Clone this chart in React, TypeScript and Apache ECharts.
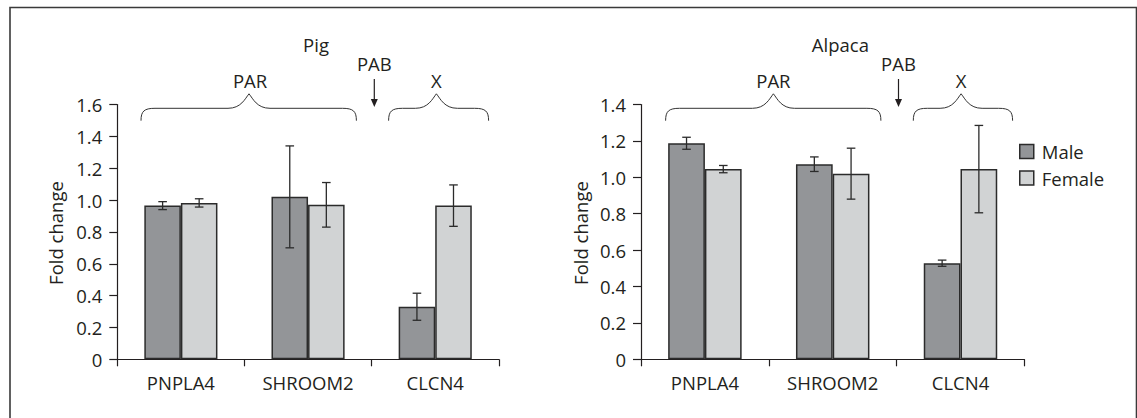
import React, { useEffect, useRef } from "react";
import * as echarts from "echarts";

const categories = ["PNPLA4", "SHROOM2", "CLCN4"];
const seriesNames = ["Male", "Female"];

const pigMale = [0.965, 1.02, 0.33];
const pigMaleErr = [0.025, 0.32, 0.085];
const pigFemale = [0.982, 0.97, 0.965];
const pigFemaleErr = [0.026, 0.14, 0.13];

const alpacaMale = [1.187, 1.072, 0.528];
const alpacaMaleErr = [0.033, 0.04, 0.017];
const alpacaFemale = [1.045, 1.02, 1.045];
const alpacaFemaleErr = [0.02, 0.14, 0.24];

const pigTicks = ["0", "0.2", "0.4", "0.6", "0.8", "1.0", "1.2", "1.4", "1.6"];
const alpacaTicks = ["0", "0.2", "0.4", "0.6", "0.8", "1.0", "1.2", "1.4"];

const FONT = "Open Sans";
const FS = 18.5;
const INK = "#231f20";
const MALE_COLOR = "#939598";
const FEMALE_COLOR = "#d1d3d4";
const GAP = 0.425;

const Brace = echarts.graphic.extendShape({
  shape: { x1: 0, x2: 0, xm: 0, yb: 0, yf: 0, yp: 0 },
  buildPath(ctx: any, s: any) {
    ctx.moveTo(s.x1, s.yb);
    ctx.bezierCurveTo(s.x1, s.yf + 3, s.x1 + 3, s.yf, s.x1 + 14, s.yf);
    ctx.lineTo(s.xm - 21, s.yf);
    ctx.bezierCurveTo(s.xm - 8, s.yf, s.xm - 4, s.yp + 5, s.xm, s.yp);
    ctx.bezierCurveTo(s.xm + 4, s.yp + 5, s.xm + 8, s.yf, s.xm + 21, s.yf);
    ctx.lineTo(s.x2 - 14, s.yf);
    ctx.bezierCurveTo(s.x2 - 3, s.yf, s.x2, s.yf + 3, s.x2, s.yb);
  },
});
echarts.graphic.registerShape("brace", Brace);

function errData(vals: number[], errs: number[], s: number) {
  return vals.map((v, i) => [i, v, errs[i], s]);
}

function errorSeries(idx: number, data: any[]) {
  return {
    type: "custom",
    xAxisIndex: idx,
    yAxisIndex: idx,
    encode: { x: 0, y: 1 },
    z: 10,
    silent: true,
    data,
    renderItem: (params: any, api: any) => {
      const cat = api.value(0);
      const v = api.value(1);
      const e = api.value(2);
      const s = api.value(3);
      const band = api.size([1, 0])[0];
      const pair = band * (1 - GAP);
      const cx = api.coord([cat, v])[0] + (s === 0 ? -pair / 4 : pair / 4);
      const yTop = api.coord([cat, v + e])[1];
      const yBot = api.coord([cat, v - e])[1];
      const hw = 4.3;
      const st = { stroke: "#2b2b2b", lineWidth: 1.3 };
      return {
        type: "group",
        children: [
          { type: "line", shape: { x1: cx, y1: yTop, x2: cx, y2: yBot }, style: st },
          { type: "line", shape: { x1: cx - hw, y1: yTop, x2: cx + hw, y2: yTop }, style: st },
          { type: "line", shape: { x1: cx - hw, y1: yBot, x2: cx + hw, y2: yBot }, style: st },
        ],
      };
    },
  };
}

function barSeries(idx: number, name: string, data: number[], color: string) {
  return {
    type: "bar",
    name,
    xAxisIndex: idx,
    yAxisIndex: idx,
    data,
    barGap: "0%",
    barCategoryGap: (GAP * 100).toFixed(1) + "%",
    itemStyle: { color, borderColor: "#2b2b2b", borderWidth: 1.5 },
  };
}

function xAxisDef(idx: number) {
  return {
    type: "category",
    gridIndex: idx,
    data: categories,
    axisLine: { lineStyle: { color: INK, width: 1.2 } },
    axisTick: { show: true, length: 7, lineStyle: { color: INK, width: 1.2 } },
    axisLabel: { color: INK, fontFamily: FONT, fontSize: FS, margin: 14 },
  };
}

function yAxisDef(idx: number, max: number, ticks: string[]) {
  return {
    type: "value",
    gridIndex: idx,
    min: 0,
    max,
    interval: 0.2,
    splitLine: { show: false },
    axisLine: { show: true, lineStyle: { color: INK, width: 1.2 } },
    axisTick: { show: true, length: 8, lineStyle: { color: INK, width: 1.2 } },
    axisLabel: {
      color: INK,
      fontFamily: FONT,
      fontSize: FS,
      margin: 15,
      formatter: (v: number) => ticks[Math.round(v / 0.2)] ?? "",
    },
  };
}

function txt(text: string, x: number, y: number, extra: any = {}) {
  return {
    type: "text",
    x,
    y,
    style: {
      text,
      fill: INK,
      font: `${FS}px "${FONT}"`,
      align: "center",
      verticalAlign: "middle",
      ...extra,
    },
  };
}

function arrow(x: number, y1: number, y2: number) {
  return [
    { type: "line", shape: { x1: x, y1, x2: x, y2: y2 - 6 }, style: { stroke: INK, lineWidth: 1.2 } },
    {
      type: "polygon",
      shape: { points: [[x - 3.5, y2 - 8], [x + 3.5, y2 - 8], [x, y2]] },
      style: { fill: INK },
    },
  ];
}

function brace(x1: number, x2: number, xm: number) {
  return {
    type: "brace",
    shape: { x1, x2, xm, yb: 120.7, yf: 108.3, yp: 93.8 },
    style: { stroke: "#333", fill: null, lineWidth: 1 },
  };
}

export default function App() {
  const ref = useRef<HTMLDivElement>(null);
  useEffect(() => {
    if (!ref.current) return;
    const chart = echarts.init(ref.current, null, { renderer: "svg" });
    const option: any = {
      animation: false,
      backgroundColor: "#ffffff",
      textStyle: { fontFamily: FONT },
      grid: [
        { left: 117.3, top: 104.5, width: 381.5, height: 254.8 },
        { left: 641, top: 104.5, width: 383.4, height: 254.8 },
      ],
      xAxis: [xAxisDef(0), xAxisDef(1)],
      yAxis: [yAxisDef(0, 1.6, pigTicks), yAxisDef(1, 1.4, alpacaTicks)],
      legend: {
        data: seriesNames,
        orient: "vertical",
        left: 1019,
        top: 139,
        padding: 0,
        itemWidth: 14,
        itemHeight: 14,
        itemGap: 1.5,
        icon: "rect",
        selectedMode: false,
        itemStyle: { borderColor: "#2b2b2b", borderWidth: 1.5 },
        textStyle: {
          color: INK,
          fontFamily: FONT,
          fontSize: FS,
          padding: [0, 0, 0, 3],
          lineHeight: 25,
        },
      },
      series: [
        barSeries(0, seriesNames[0], pigMale, MALE_COLOR),
        barSeries(0, seriesNames[1], pigFemale, FEMALE_COLOR),
        barSeries(1, seriesNames[0], alpacaMale, MALE_COLOR),
        barSeries(1, seriesNames[1], alpacaFemale, FEMALE_COLOR),
        errorSeries(0, [...errData(pigMale, pigMaleErr, 0), ...errData(pigFemale, pigFemaleErr, 1)]),
        errorSeries(1, [...errData(alpacaMale, alpacaMaleErr, 0), ...errData(alpacaFemale, alpacaFemaleErr, 1)]),
      ],
      graphic: [
        {
          type: "rect",
          shape: { x: 10, y: 7.5, width: 1126.5, height: 430 },
          style: { stroke: "#3a3a3a", fill: null, lineWidth: 1.6 },
          silent: true,
        },
        txt("Pig", 316, 44.3),
        txt("PAB", 374.3, 63.3),
        txt("PAR", 250, 80),
        txt("X", 436.4, 80),
        ...arrow(374.3, 79, 107),
        brace(141, 356.4, 249),
        brace(388.6, 488.6, 436.4),
        { ...txt("Fold change", 55.4, 233), rotation: Math.PI / 2 },
        txt("Alpaca", 840.4, 44.3),
        txt("PAB", 898.5, 63.3),
        txt("PAR", 773.4, 80),
        txt("X", 961.1, 80),
        ...arrow(898.5, 79, 107),
        brace(665.6, 880.9, 773.4),
        brace(913.3, 1012.6, 961.1),
        { ...txt("Fold change", 580.2, 233), rotation: Math.PI / 2 },
      ],
    };
    chart.setOption(option);
    return () => chart.dispose();
  }, []);
  return (
    <div
      ref={ref}
      style={{ position: "absolute", left: 0, top: 0, width: 1137, height: 418 }}
    />
  );
}
